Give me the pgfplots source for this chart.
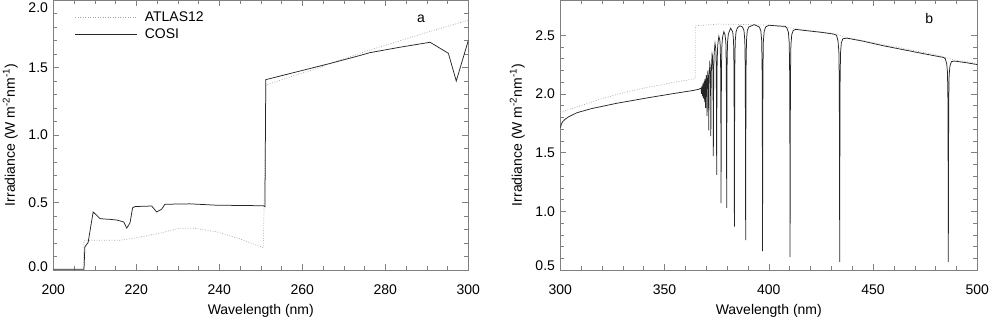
\documentclass[border=0pt]{standalone}
\usepackage{fontspec}
\setmainfont{Liberation Sans}
\usepackage{pgfplots}
\pgfplotsset{compat=1.18}
\pgfplotsset{
  mystyle/.style={
    scale only axis, height=270pt,
    axis line style={gray, line width=0.6pt},
    every tick/.style={gray, line width=0.5pt},
    major tick length=6pt, minor tick length=4pt,
    tick align=inside,
    xticklabel shift=10pt, yticklabel shift=0.5pt,
    every axis x label/.style={at={([yshift=-41pt]axis description cs:0.5,0)}, anchor=center},
    every axis y label/.style={at={([xshift=-43pt]axis description cs:0,0.5)}, rotate=90, anchor=center},
    xlabel={Wavelength (nm)},
    ylabel={Irradiance (W m\textsuperscript{-2}nm\textsuperscript{-1})},
    tick label style={black},
  },
  atlas/.style={gray!70, line width=0.7pt, dash pattern=on 0.8pt off 1.7pt},
  cosi/.style={black!85, line width=0.75pt},
}
\begin{document}
\fontsize{14}{16.5}\selectfont
\begin{tikzpicture}
\begin{axis}[mystyle, at={(0pt,0pt)}, anchor=south west, width=415pt,
  xmin=200, xmax=300, ymin=0, ymax=2,
  xtick={200,220,240,260,280,300}, xticklabels={200,220,240,260,280,300},
  ytick={0,0.5,1,1.5,2},
  yticklabels={{\raisebox{3.5pt}[\height][\depth]{0.0}},0.5,1.0,1.5,{\raisebox{-7.5pt}[\height][\depth]{2.0}}},
  minor x tick num=3, minor y tick num=4,
  legend cell align=left,
  legend image code/.code={\draw[#1] (0pt,0pt) -- (62pt,0pt);},
  legend style={at={(rel axis cs:0.052,0.962)}, anchor=north west, draw=none, fill=none,
    inner sep=0pt, row sep=3pt, nodes={inner sep=1pt},
    /tikz/every odd column/.append style={column sep=6pt}},
]
\addplot[atlas] coordinates {
(200,0.0) (207.3,0.0) (207.4,0.22) (212,0.22) (216,0.22) (219.2,0.235) (222,0.25)
(226,0.275) (230.5,0.31) (233.7,0.31) (236,0.30) (239.7,0.28) (245,0.23) (250.6,0.165)
(251.3,1.37) (258,1.44) (264.3,1.50) (266.7,1.53) (276.3,1.63) (282.7,1.69) (290,1.76) (300,1.85)
};
\addlegendentry{ATLAS12}
\addplot[cosi] coordinates {
(200,0.005) (207.4,0.005) (207.6,0.17) (208.4,0.205) (209.6,0.43) (211.3,0.38) (213.7,0.375)
(215.3,0.37) (216.5,0.36) (217.0,0.355) (217.7,0.31) (218.5,0.35) (219.1,0.46) (219.7,0.47)
(223.7,0.474) (224.9,0.43) (226.1,0.45) (226.9,0.487) (232.9,0.49) (239.3,0.48) (250.6,0.476)
(251.0,0.469) (251.2,1.41) (266.7,1.53) (274,1.59) (276.3,1.61) (283.5,1.65) (290.8,1.687)
(295.2,1.605) (297.1,1.40) (300,1.70)
};
\addlegendentry{COSI}
\node at (rel axis cs:0.886,0.93) {a};
\end{axis}
\begin{axis}[mystyle, at={(507pt,0pt)}, anchor=south west, width=417pt,
  xmin=300, xmax=500, ymin=0.5, ymax=2.8,
  xtick={300,350,400,450,500}, xticklabels={300,350,400,450,500},
  ytick={0.5,1,1.5,2,2.5},
  yticklabels={{\raisebox{4pt}[\height][\depth]{0.5}},1.0,1.5,2.0,2.5},
  minor x tick num=4, minor y tick num=4,
]
\addplot[atlas] coordinates {
(300,1.84) (303,1.86) (310,1.90) (320,1.96) (330,2.01) (343,2.06) (355,2.10) (364.7,2.13)
(364.8,2.58) (376,2.595) (392,2.59) (401,2.585) (415,2.55) (431,2.515) (437.5,2.48)
(455,2.42) (481,2.33) (489,2.29) (500,2.26)
};
\addplot[cosi] coordinates {
(300,1.71) (300.5,1.74) (301,1.76) (302,1.78) (304,1.805) (308,1.84) (315,1.875) (327,1.92)
(343,1.97) (355,2.005) (364,2.03) (366.5,2.04)
(367.5,2.05) (367.75,2.00) (368.0,2.07) (368.25,1.98) (368.5,2.09) (368.75,1.96) (369.0,2.11)
(369.25,1.93) (369.45,2.13) (369.7,1.88) (370.05,2.16)
(370.2,2.11) (370.32,1.98) (370.4,1.81) (370.48,1.98) (370.6,2.11) (370.8,2.20)
(371.0,2.12) (371.12,1.93) (371.2,1.69) (371.28,1.93) (371.4,2.13) (371.7,2.26)
(371.8,2.25) (372.0,2.17) (372.12,1.94) (372.2,1.64) (372.28,1.94) (372.4,2.17) (372.6,2.26) (372.8,2.34)
(373.0,2.32) (373.2,2.20) (373.32,1.88) (373.4,1.47) (373.48,1.88) (373.6,2.21) (373.8,2.35) (374.2,2.43)
(374.6,2.38) (374.8,2.23) (374.92,1.83) (375.0,1.31) (375.08,1.83) (375.2,2.23) (375.4,2.38) (375.6,2.43) (376.05,2.49)
(376.5,2.46) (376.7,2.41) (376.9,2.22) (377.02,1.72) (377.1,1.07) (377.18,1.72) (377.3,2.22) (377.5,2.41) (377.8,2.48) (378.45,2.53)
(379.0,2.505) (379.4,2.44) (379.6,2.24) (379.72,1.71) (379.8,1.03) (379.88,1.71) (380.0,2.24) (380.2,2.44) (380.6,2.51) (381.65,2.56)
(382.7,2.53) (383.1,2.45) (383.3,2.23) (383.42,1.63) (383.5,0.87) (383.58,1.63) (383.7,2.23) (383.9,2.45) (384.3,2.53) (385.0,2.565) (386.2,2.58)
(387.4,2.57) (388.1,2.54) (388.5,2.455) (388.7,2.22) (388.82,1.58) (388.9,0.755) (388.98,1.58) (389.1,2.22) (389.3,2.455) (389.7,2.54) (390.4,2.57) (392.95,2.59)
(395.5,2.57) (396.2,2.535) (396.6,2.45) (396.8,2.20) (396.92,1.53) (397.0,0.66) (397.08,1.53) (397.2,2.20) (397.4,2.45) (397.8,2.535) (398.5,2.57) (400.0,2.585) (403.6,2.58)
(408.0,2.575) (408.7,2.56) (409.4,2.525) (409.8,2.435) (410.0,2.185) (410.12,1.50) (410.2,0.61) (410.28,1.49) (410.4,2.165) (410.6,2.415) (411.0,2.505) (411.7,2.54) (413.0,2.55)
(415,2.545) (420,2.535) (425,2.525) (431,2.51) (432.5,2.50)
(433.2,2.45) (433.6,2.365) (433.8,2.11) (433.92,1.44) (434.0,0.57) (434.08,1.43) (434.2,2.095) (434.4,2.35) (434.8,2.435) (435.5,2.47)
(437.5,2.475) (445,2.45) (455,2.41) (465,2.375) (475,2.34) (484,2.31) (484.6,2.30)
(485.3,2.26) (485.7,2.185) (485.9,1.955) (486.02,1.355) (486.1,0.57) (486.18,1.34) (486.3,1.94) (486.5,2.165) (486.9,2.24) (487.6,2.275)
(489,2.28) (495,2.265) (500,2.25)
};
\node at (rel axis cs:0.885,0.93) {b};
\end{axis}
\pgfresetboundingbox
\useasboundingbox (-53.3pt,-49pt) rectangle (935.7pt,270pt);
\end{tikzpicture}
\end{document}
